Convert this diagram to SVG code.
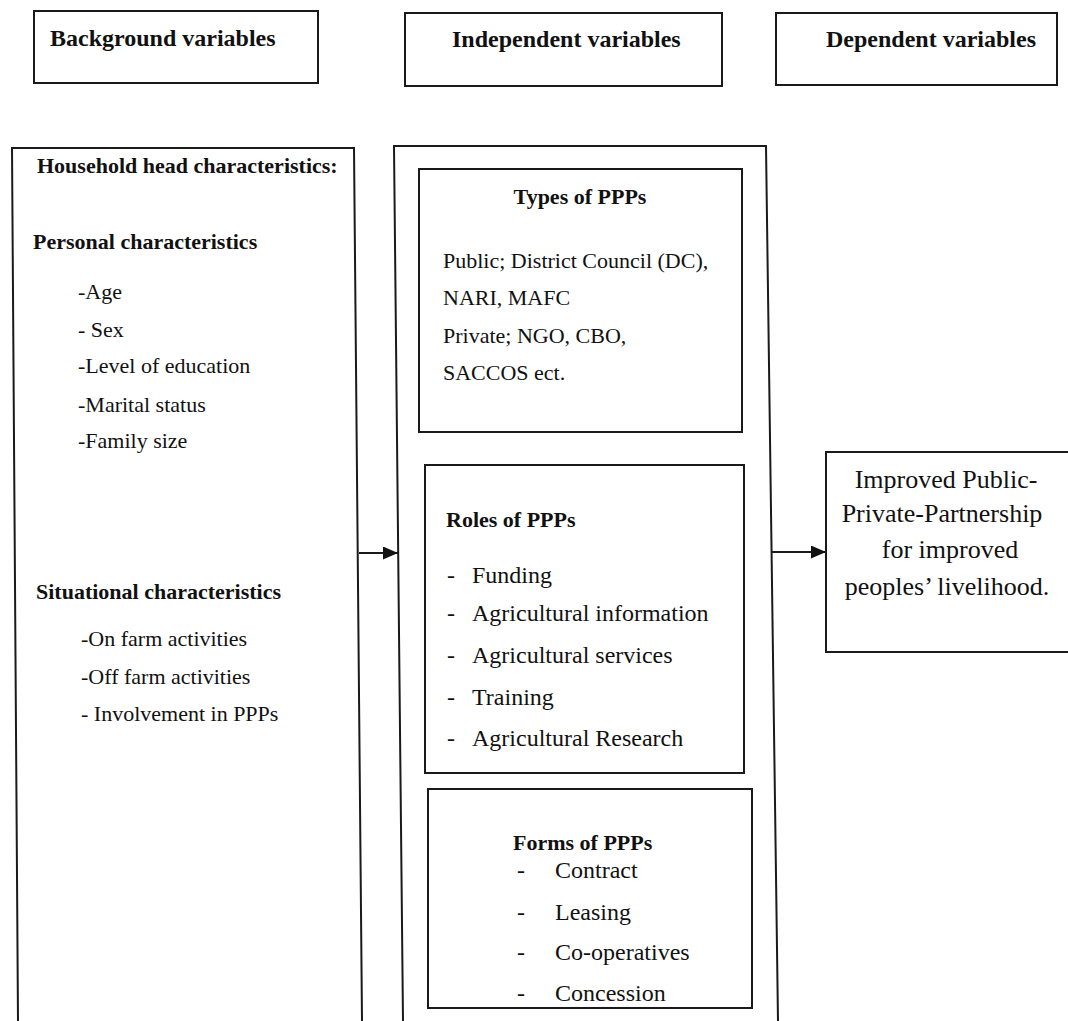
<svg xmlns="http://www.w3.org/2000/svg" width="1068" height="1021" viewBox="0 0 1068 1021">
<defs>
<marker id="ah" markerWidth="15" markerHeight="13" refX="15" refY="6.5" orient="auto" markerUnits="userSpaceOnUse"><path d="M0,0 L15,6.5 L0,13 Z" fill="#111"/></marker>
<style>
.box{fill:none;stroke:#1a1a1a;stroke-width:2}
.con{fill:none;stroke:#1a1a1a;stroke-width:2}
.t{font-family:"Liberation Serif","Times New Roman",serif;fill:#111}
.b{font-weight:bold}
.h{font-size:24px;font-weight:bold}
.s22{font-size:22px}
.s24{font-size:24px}
.s26{font-size:26px}
</style>
</defs>
<rect width="1068" height="1021" fill="#fff"/>

<g id="hdr-background">
<rect class="box" x="34" y="11" width="284" height="72"/>
<text class="t h" x="50" y="46">Background variables</text>
</g>
<g id="hdr-independent">
<rect class="box" x="405" y="13" width="317" height="73"/>
<text class="t h" x="452" y="47">Independent variables</text>
</g>
<g id="hdr-dependent">
<rect class="box" x="776" y="13" width="281" height="72"/>
<text class="t h" x="1036" y="47" text-anchor="end">Dependent variables</text>
</g>

<g id="background-box">
<path class="box" d="M18,1021 L12,148 L354,148 L362,1021"/>
<text class="t s22 b" x="37" y="173">Household head characteristics:</text>
<text class="t s22 b" x="33" y="249">Personal characteristics</text>
<text class="t s22" x="78" y="299">-Age</text>
<text class="t s22" x="78" y="337">- Sex</text>
<text class="t s22" x="78" y="373">-Level of education</text>
<text class="t s22" x="78" y="412">-Marital status</text>
<text class="t s22" x="78" y="448">-Family size</text>
<text class="t s22 b" x="36" y="599">Situational characteristics</text>
<text class="t s22" x="81" y="646">-On farm activities</text>
<text class="t s22" x="81" y="684">-Off farm activities</text>
<text class="t s22" x="81" y="721">- Involvement in PPPs</text>
</g>

<g id="independent-box">
<path class="box" d="M403,1021 L394,146 L766,146 L778,1021"/>
</g>

<g id="types">
<rect class="box" x="419" y="169" width="323" height="263"/>
<text class="t s22 b" x="580" y="204" text-anchor="middle">Types of PPPs</text>
<text class="t s22" x="443" y="268">Public; District Council (DC),</text>
<text class="t s22" x="443" y="305">NARI, MAFC</text>
<text class="t s22" x="443" y="343">Private; NGO, CBO,</text>
<text class="t s22" x="443" y="380">SACCOS ect.</text>
</g>

<g id="roles">
<rect class="box" x="425" y="465" width="319" height="308"/>
<text class="t s22 b" x="446" y="527">Roles of PPPs</text>
<text class="t s24" x="447" y="583">-</text><text class="t s24" x="472" y="583">Funding</text>
<text class="t s24" x="447" y="621">-</text><text class="t s24" x="472" y="621">Agricultural information</text>
<text class="t s24" x="447" y="663">-</text><text class="t s24" x="472" y="663">Agricultural services</text>
<text class="t s24" x="447" y="705">-</text><text class="t s24" x="472" y="705">Training</text>
<text class="t s24" x="447" y="746">-</text><text class="t s24" x="472" y="746">Agricultural Research</text>
</g>

<g id="forms">
<rect class="box" x="428" y="789" width="324" height="219"/>
<text class="t s22 b" x="513" y="850">Forms of PPPs</text>
<text class="t s24" x="517" y="878">-</text><text class="t s24" x="555" y="878">Contract</text>
<text class="t s24" x="517" y="920">-</text><text class="t s24" x="555" y="920">Leasing</text>
<text class="t s24" x="517" y="960">-</text><text class="t s24" x="555" y="960">Co-operatives</text>
<text class="t s24" x="517" y="1001">-</text><text class="t s24" x="555" y="1001">Concession</text>
</g>

<g id="outcome">
<path class="box" d="M1068,452 L826,452 L826,652 L1068,652"/>
<text class="t s26" x="946" y="488" text-anchor="middle">Improved Public-</text>
<text class="t s26" x="942" y="522" text-anchor="middle">Private-Partnership</text>
<text class="t s26" x="950" y="558" text-anchor="middle">for improved</text>
<text class="t s26" x="947" y="595" text-anchor="middle">peoples’ livelihood.</text>
</g>

<g id="connectors">
<line class="con" x1="359" y1="553" x2="398" y2="553" marker-end="url(#ah)"/>
<line class="con" x1="771" y1="552" x2="826" y2="552" marker-end="url(#ah)"/>
</g>
</svg>
